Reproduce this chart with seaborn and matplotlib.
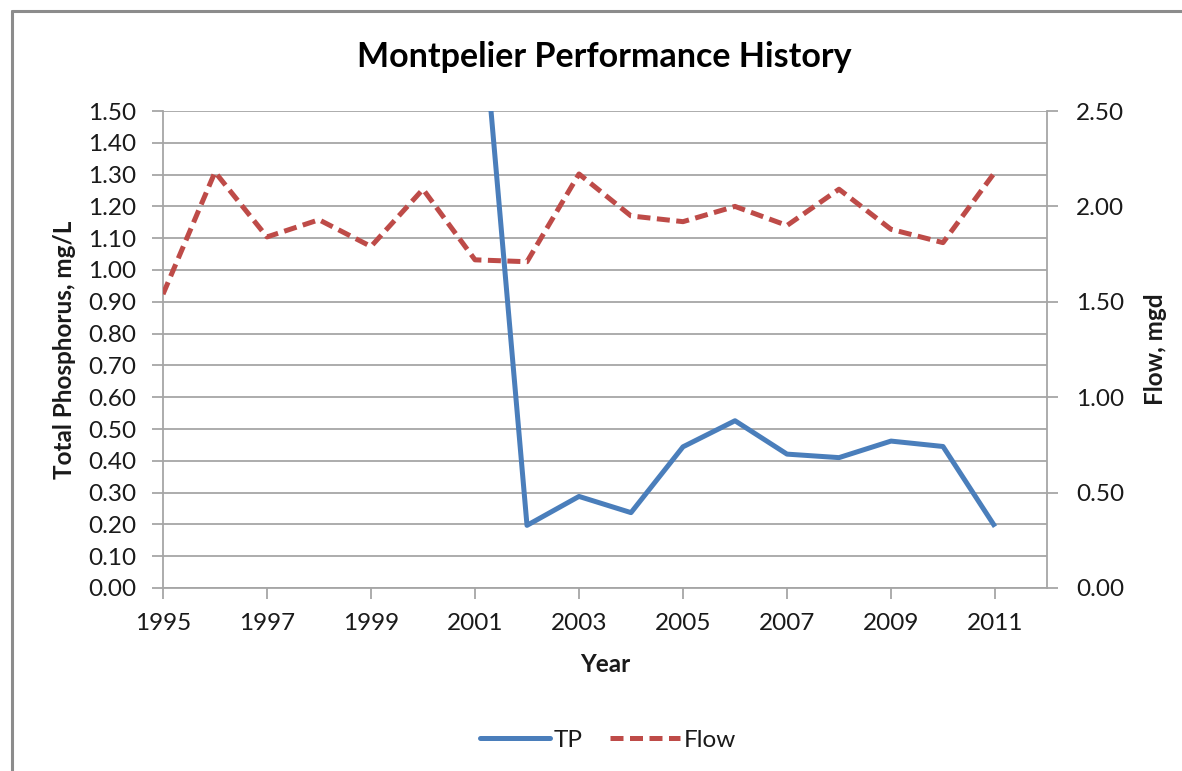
import matplotlib
matplotlib.use("Agg")
import matplotlib.pyplot as plt
import seaborn as sns
import pandas as pd
from matplotlib.lines import Line2D

years_flow = [1995, 1996, 1997, 1998, 1999, 2000, 2001, 2002, 2003,
              2004, 2005, 2006, 2007, 2008, 2009, 2010, 2011]
flow = [1.54, 2.18, 1.84, 1.93, 1.79, 2.09, 1.72, 1.71, 2.17,
        1.95, 1.92, 2.00, 1.90, 2.09, 1.88, 1.81, 2.18]
years_tp = [2001, 2002, 2003, 2004, 2005, 2006, 2007, 2008, 2009, 2010, 2011]
tp = [2.08, 0.197, 0.288, 0.237, 0.444, 0.526, 0.421, 0.41, 0.462, 0.445, 0.193]

title = "Montpelier Performance History"
ylabel_left = "Total Phosphorus, mg/L"
ylabel_right = "Flow, mgd"
xlabel = "Year"

sns.set_theme(style="white")
plt.rcParams['font.family'] = ['Lato', 'DejaVu Sans']

df_tp = pd.DataFrame({"Year": years_tp, "TP": tp})
df_flow = pd.DataFrame({"Year": years_flow, "Flow": flow})

fig = plt.figure(figsize=(11.82, 7.71), dpi=100)
ax = fig.add_axes([163/1182, 1-588/771, (1047-163)/1182, (588-111)/771])
ax2 = ax.twinx()

tp_color = "#4A7EBB"
flow_color = "#BE4B48"
grid_color = "#A6A6A6"
text_color = "#1a1a1a"
dash = (0, (2.6, 1.3))

sns.lineplot(data=df_tp, x="Year", y="TP", ax=ax, color=tp_color, linewidth=3.6,
             solid_capstyle="butt")
sns.lineplot(data=df_flow, x="Year", y="Flow", ax=ax2, color=flow_color, linewidth=3.6,
             linestyle=dash)

ax.set_xlim(1995, 2012)
ax.set_ylim(0, 1.5)
ax2.set_ylim(0, 2.5)
ax.set_xticks(list(range(1995, 2012, 2)))
ax.set_yticks([i / 10 for i in range(16)])
ax.set_yticklabels([f"{i/10:.2f}" for i in range(16)])
ax2.set_yticks([0, 0.5, 1.0, 1.5, 2.0, 2.5])
ax2.set_yticklabels([f"{v:.2f}" for v in [0, 0.5, 1.0, 1.5, 2.0, 2.5]])

ax.yaxis.grid(True, color=grid_color, linewidth=1.3)
ax.set_axisbelow(True)
ax.xaxis.grid(False)
ax2.grid(False)

for a in (ax, ax2):
    for s in a.spines.values():
        s.set_color(grid_color)
        s.set_linewidth(1.3)
    a.spines['top'].set_visible(False)
ax.spines['right'].set_visible(False)
ax2.spines['left'].set_visible(False)
ax2.spines['bottom'].set_visible(False)

ax.tick_params(axis='both', which='major', direction='out', length=8, width=1.3,
               color=grid_color, labelsize=17.5, labelcolor=text_color)
ax.tick_params(axis='y', pad=11)
ax.tick_params(axis='x', pad=10)
ax2.tick_params(axis='y', direction='out', length=8, width=1.3, color=grid_color,
                labelsize=17.5, labelcolor=text_color, pad=13)
ax.tick_params(left=True, bottom=True)
ax2.tick_params(right=True)

ax.set_xlabel(xlabel, fontsize=17.5, fontweight='bold', color=text_color, labelpad=14)
ax.set_ylabel(ylabel_left, fontsize=17.5, fontweight='bold', color=text_color, labelpad=9)
ax2.set_ylabel(ylabel_right, fontsize=17.5, fontweight='bold', color=text_color, labelpad=14)

fig.text(604/1182, 1-57/771, title, ha='center', va='center', fontsize=24.5,
         fontweight='bold', color='black')

handles = [Line2D([0], [0], color=tp_color, linewidth=3.6),
           Line2D([0], [0], color=flow_color, linewidth=3.6, linestyle=dash)]
fig.legend(handles, ["TP", "Flow"], loc='center', bbox_to_anchor=(608/1182, 1-740/771),
           ncol=2, frameon=False, fontsize=17.5, handlelength=2.9, handletextpad=0.15,
           columnspacing=1.1, labelcolor=text_color)

border = "#8C8C8C"
fig.add_artist(Line2D([12/1182, 1.05], [1-11/771, 1-11/771], transform=fig.transFigure,
                      color=border, linewidth=2.2))
fig.add_artist(Line2D([12/1182, 12/1182], [-0.05, 1-11/771], transform=fig.transFigure,
                      color=border, linewidth=2.2))

fig.savefig("out.png", dpi=100)
